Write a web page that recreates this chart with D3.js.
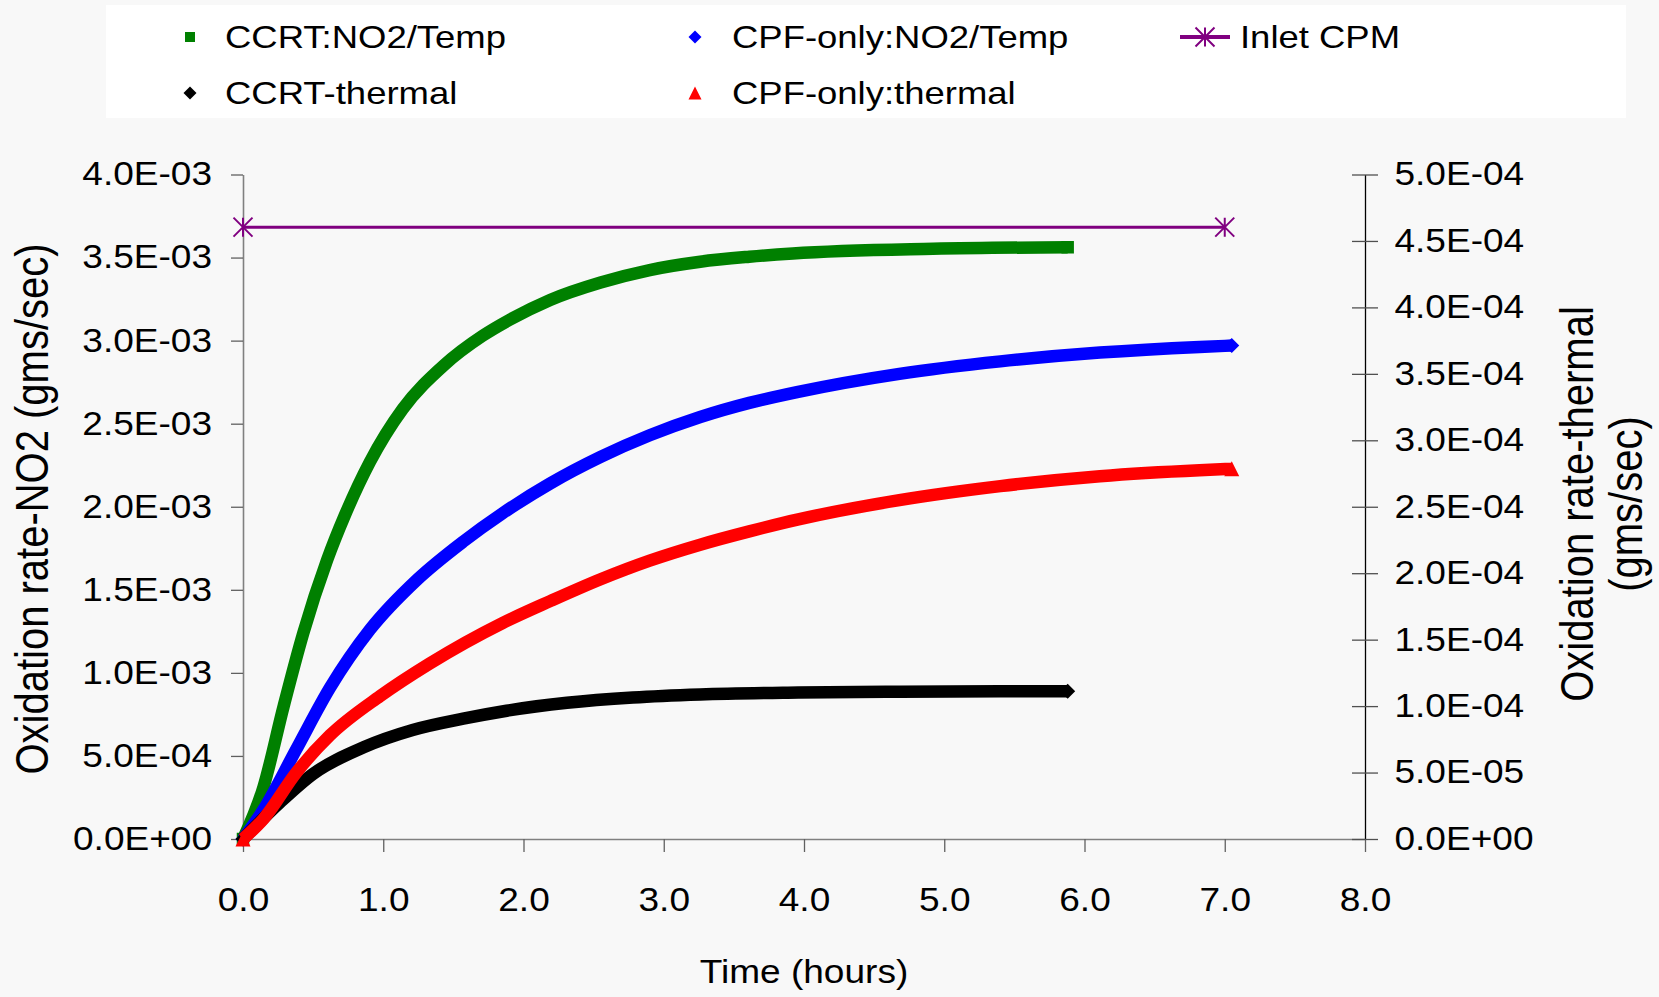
<!DOCTYPE html>
<html>
<head>
<meta charset="utf-8">
<script src="https://cdn.jsdelivr.net/npm/d3@7"></script>
<style>
  html, body { margin: 0; padding: 0; background: #f8f8f8; }
  svg { display: block; font-family: "Liberation Sans", Arial, sans-serif; }
</style>
</head>
<body>
<svg id="chart" width="1659" height="997"></svg>
<script>
// ---- axis ticks ----
const timeTicks = [0, 1, 2, 3, 4, 5, 6, 7, 8];
const timeTickLabels = ["0.0", "1.0", "2.0", "3.0", "4.0", "5.0", "6.0", "7.0", "8.0"];
const no2Ticks = [0, 5e-4, 1e-3, 1.5e-3, 2e-3, 2.5e-3, 3e-3, 3.5e-3, 4e-3];
const no2TickLabels = ["0.0E+00", "5.0E-04", "1.0E-03", "1.5E-03", "2.0E-03", "2.5E-03", "3.0E-03", "3.5E-03", "4.0E-03"];
const thermalTicks = [0, 5e-5, 1e-4, 1.5e-4, 2e-4, 2.5e-4, 3e-4, 3.5e-4, 4e-4, 4.5e-4, 5e-4];
const thermalTickLabels = ["0.0E+00", "5.0E-05", "1.0E-04", "1.5E-04", "2.0E-04", "2.5E-04", "3.0E-04", "3.5E-04", "4.0E-04", "4.5E-04", "5.0E-04"];

// ---- series (time in hours, oxidation rate in g/s) ----
const ccrtNo2Hours = [0, 0.145, 0.29, 0.43, 0.60, 0.727, 0.905, 1.14, 1.43, 1.71, 1.90, 2.19, 2.55, 2.90, 3.26, 3.61, 3.92, 4.92, 5.88];
const ccrtNo2Rate  = [0, 0.31e-3, 0.80e-3, 1.24e-3, 1.68e-3, 1.95e-3, 2.27e-3, 2.59e-3, 2.85e-3, 3.03e-3, 3.125e-3, 3.245e-3, 3.35e-3, 3.425e-3, 3.475e-3, 3.505e-3, 3.525e-3, 3.553e-3, 3.562e-3];

const cpfNo2Hours = [0, 0.145, 0.38, 0.62, 0.905, 1.24, 1.57, 1.85, 2.19, 2.55, 2.90, 3.26, 3.61, 3.95, 4.68, 5.40, 6.11, 6.82, 7.05];
const cpfNo2Rate  = [0, 0.175e-3, 0.54e-3, 0.91e-3, 1.26e-3, 1.56e-3, 1.79e-3, 1.96e-3, 2.14e-3, 2.30e-3, 2.43e-3, 2.54e-3, 2.625e-3, 2.69e-3, 2.80e-3, 2.875e-3, 2.928e-3, 2.962e-3, 2.97e-3];

const ccrtThermalHours = [0, 0.264, 0.50, 0.86, 1.21, 1.57, 1.88, 2.31, 2.78, 3.26, 3.96, 4.68, 5.40, 5.88];
const ccrtThermalRate  = [0, 0.275e-4, 0.49e-4, 0.69e-4, 0.82e-4, 0.905e-4, 0.965e-4, 1.025e-4, 1.065e-4, 1.088e-4, 1.102e-4, 1.108e-4, 1.111e-4, 1.112e-4];

const cpfThermalHours = [0, 0.145, 0.38, 0.62, 0.977, 1.33, 1.85, 2.19, 2.55, 2.90, 3.26, 3.61, 3.96, 4.68, 5.40, 6.11, 6.82, 7.05];
const cpfThermalRate  = [0, 0.15e-4, 0.50e-4, 0.78e-4, 1.075e-4, 1.32e-4, 1.625e-4, 1.79e-4, 1.955e-4, 2.095e-4, 2.215e-4, 2.315e-4, 2.405e-4, 2.55e-4, 2.655e-4, 2.73e-4, 2.775e-4, 2.785e-4];

const inletHours = [0, 7.0];
const inletRate  = [3.683e-3, 3.683e-3];

const seriesNames = ["CCRT:NO2/Temp", "CPF-only:NO2/Temp", "Inlet CPM", "CCRT-thermal", "CPF-only:thermal"];

// ---- layout ----
const svg = d3.select("#chart");
const plot = { left: 243, right: 1365, top: 174.5, bottom: 839 };
const HSTRETCH = 1.14;   // glyphs are drawn slightly wide

const x = d3.scaleLinear().domain([0, 8]).range([plot.left, plot.right]);
const yNo2 = d3.scaleLinear().domain([0, 4e-3]).range([plot.bottom, plot.top]);
const yThermal = d3.scaleLinear().domain([0, 5e-4]).range([plot.bottom, plot.top]);

function widen(sel, k = HSTRETCH) {
  sel.each(function () {
    const t = d3.select(this);
    const ax = +t.attr("x") || 0;
    const ay = +t.attr("y") || 0;
    t.attr("transform", `translate(${ax},${ay}) scale(${k},1) translate(${-ax},${-ay})`);
  });
}

// ---- axes ----
const gLeft = svg.append("g").attr("transform", `translate(${plot.left},0)`)
  .call(d3.axisLeft(yNo2).tickValues(no2Ticks).tickFormat((d, i) => no2TickLabels[i])
    .tickSizeInner(12).tickSizeOuter(0).tickPadding(19));
gLeft.select(".domain").attr("stroke", "#808080").attr("stroke-width", 1.6);
gLeft.selectAll(".tick line").attr("stroke", "#606060").attr("stroke-width", 1.3);
gLeft.selectAll("text").attr("font-size", 32.5).attr("fill", "#000")
  .attr("font-family", '"Liberation Sans", Arial, sans-serif').call(widen);

const gBottom = svg.append("g").attr("transform", `translate(0,${plot.bottom})`)
  .call(d3.axisBottom(x).tickValues(timeTicks).tickFormat((d, i) => timeTickLabels[i])
    .tickSizeInner(13).tickSizeOuter(0).tickPadding(36));
gBottom.select(".domain").attr("stroke", "#808080").attr("stroke-width", 1.6);
gBottom.selectAll(".tick line").attr("stroke", "#606060").attr("stroke-width", 1.3);
gBottom.selectAll("text").attr("font-size", 32.5).attr("fill", "#000")
  .attr("font-family", '"Liberation Sans", Arial, sans-serif').call(widen);

const gRight = svg.append("g").attr("transform", `translate(${plot.right},0)`)
  .call(d3.axisRight(yThermal).tickValues(thermalTicks).tickFormat((d, i) => thermalTickLabels[i])
    .tickSizeInner(13).tickSizeOuter(0).tickPadding(16.5));
gRight.select(".domain").attr("stroke", "#000").attr("stroke-width", 1.3);
gRight.selectAll(".tick line").attr("x1", -13).attr("x2", 13).attr("stroke", "#505050").attr("stroke-width", 1.3);
gRight.selectAll("text").attr("font-size", 32.5).attr("fill", "#000")
  .attr("font-family", '"Liberation Sans", Arial, sans-serif').call(widen);

// ---- axis titles ----
svg.append("text")
  .attr("transform", `translate(32,509) rotate(-90) scale(1,${HSTRETCH})`)
  .attr("text-anchor", "middle").attr("dominant-baseline", "central")
  .attr("font-size", 40).text("Oxidation rate-NO2 (gms/sec)");

svg.append("text")
  .attr("transform", `translate(1577,504) rotate(-90) scale(1,${HSTRETCH})`)
  .attr("text-anchor", "middle").attr("dominant-baseline", "central")
  .attr("font-size", 40).text("Oxidation rate-thermal");
svg.append("text")
  .attr("transform", `translate(1626,504) rotate(-90) scale(1,${HSTRETCH})`)
  .attr("text-anchor", "middle").attr("dominant-baseline", "central")
  .attr("font-size", 40).text("(gms/sec)");

svg.append("text")
  .attr("x", (plot.left + plot.right) / 2).attr("y", 983)
  .attr("text-anchor", "middle").attr("font-size", 32.5)
  .text("Time (hours)").call(widen);

// ---- marker shapes ----
const markerPath = {
  square: s => `M${-s / 2},${-s / 2}h${s}v${s}h${-s}Z`,
  diamond: s => `M0,${-s / 2}L${s / 2},0L0,${s / 2}L${-s / 2},0Z`,
  triangle: s => `M0,${-s / 2}L${s / 2},${s / 2}L${-s / 2},${s / 2}Z`,
  star: s => `M${-s / 2},${-s / 2}L${s / 2},${s / 2}M${-s / 2},${s / 2}L${s / 2},${-s / 2}M0,${-s / 2}V${s / 2}`
};

// ---- series ----
const series = [
  { name: seriesNames[0], hours: ccrtNo2Hours, rate: ccrtNo2Rate, y: yNo2, color: "#008000", marker: "square" },
  { name: seriesNames[1], hours: cpfNo2Hours, rate: cpfNo2Rate, y: yNo2, color: "#0000ff", marker: "diamond" },
  { name: seriesNames[3], hours: ccrtThermalHours, rate: ccrtThermalRate, y: yThermal, color: "#000000", marker: "diamond" },
  { name: seriesNames[4], hours: cpfThermalHours, rate: cpfThermalRate, y: yThermal, color: "#ff0000", marker: "triangle" }
];

const gSeries = svg.append("g");
series.forEach(s => {
  const pts = s.hours.map((h, i) => [h, s.rate[i]]);
  const line = d3.line().x(d => x(d[0])).y(d => s.y(d[1])).curve(d3.curveMonotoneX);
  gSeries.append("path").attr("d", line(pts))
    .attr("fill", "none").attr("stroke", s.color)
    .attr("stroke-width", 12.5).attr("stroke-linejoin", "round");
  [pts[0], pts[pts.length - 1]].forEach(p => {
    gSeries.append("path")
      .attr("transform", `translate(${x(p[0])},${s.y(p[1])})`)
      .attr("d", markerPath[s.marker](s.marker === "square" ? 12.5 : 15))
      .attr("fill", s.color);
  });
});

// inlet CPM reference line
const inletPts = inletHours.map((h, i) => [h, inletRate[i]]);
svg.append("path")
  .attr("d", d3.line().x(d => x(d[0])).y(d => yNo2(d[1]))(inletPts))
  .attr("fill", "none").attr("stroke", "#800080").attr("stroke-width", 3);
inletPts.forEach(p => {
  svg.append("path")
    .attr("transform", `translate(${x(p[0])},${yNo2(p[1])})`)
    .attr("d", markerPath.star(19))
    .attr("fill", "none").attr("stroke", "#800080").attr("stroke-width", 2);
});

// ---- legend ----
const legend = svg.append("g");
legend.append("rect").attr("x", 106).attr("y", 5).attr("width", 1520).attr("height", 113).attr("fill", "#ffffff");

const legendItems = [
  { name: seriesNames[0], color: "#008000", marker: "square", mx: 190, tx: 225, cy: 37 },
  { name: seriesNames[1], color: "#0000ff", marker: "diamond", mx: 695, tx: 732, cy: 37 },
  { name: seriesNames[2], color: "#800080", marker: "star", mx: 1205, tx: 1240, cy: 37 },
  { name: seriesNames[3], color: "#000000", marker: "diamond", mx: 190, tx: 225, cy: 93 },
  { name: seriesNames[4], color: "#ff0000", marker: "triangle", mx: 695, tx: 732, cy: 93 }
];
legendItems.forEach(it => {
  if (it.marker === "star") {
    legend.append("line").attr("x1", it.mx - 25).attr("x2", it.mx + 25)
      .attr("y1", it.cy).attr("y2", it.cy).attr("stroke", it.color).attr("stroke-width", 4);
    legend.append("path").attr("transform", `translate(${it.mx},${it.cy})`)
      .attr("d", markerPath.star(19)).attr("fill", "none").attr("stroke", it.color).attr("stroke-width", 2);
  } else {
    legend.append("path").attr("transform", `translate(${it.mx},${it.cy})`)
      .attr("d", markerPath[it.marker](it.marker === "square" ? 10 : 13)).attr("fill", it.color);
  }
  legend.append("text").attr("x", it.tx).attr("y", it.cy + 11.5)
    .attr("font-size", 32).text(it.name).call(widen);
});
</script>
</body>
</html>
